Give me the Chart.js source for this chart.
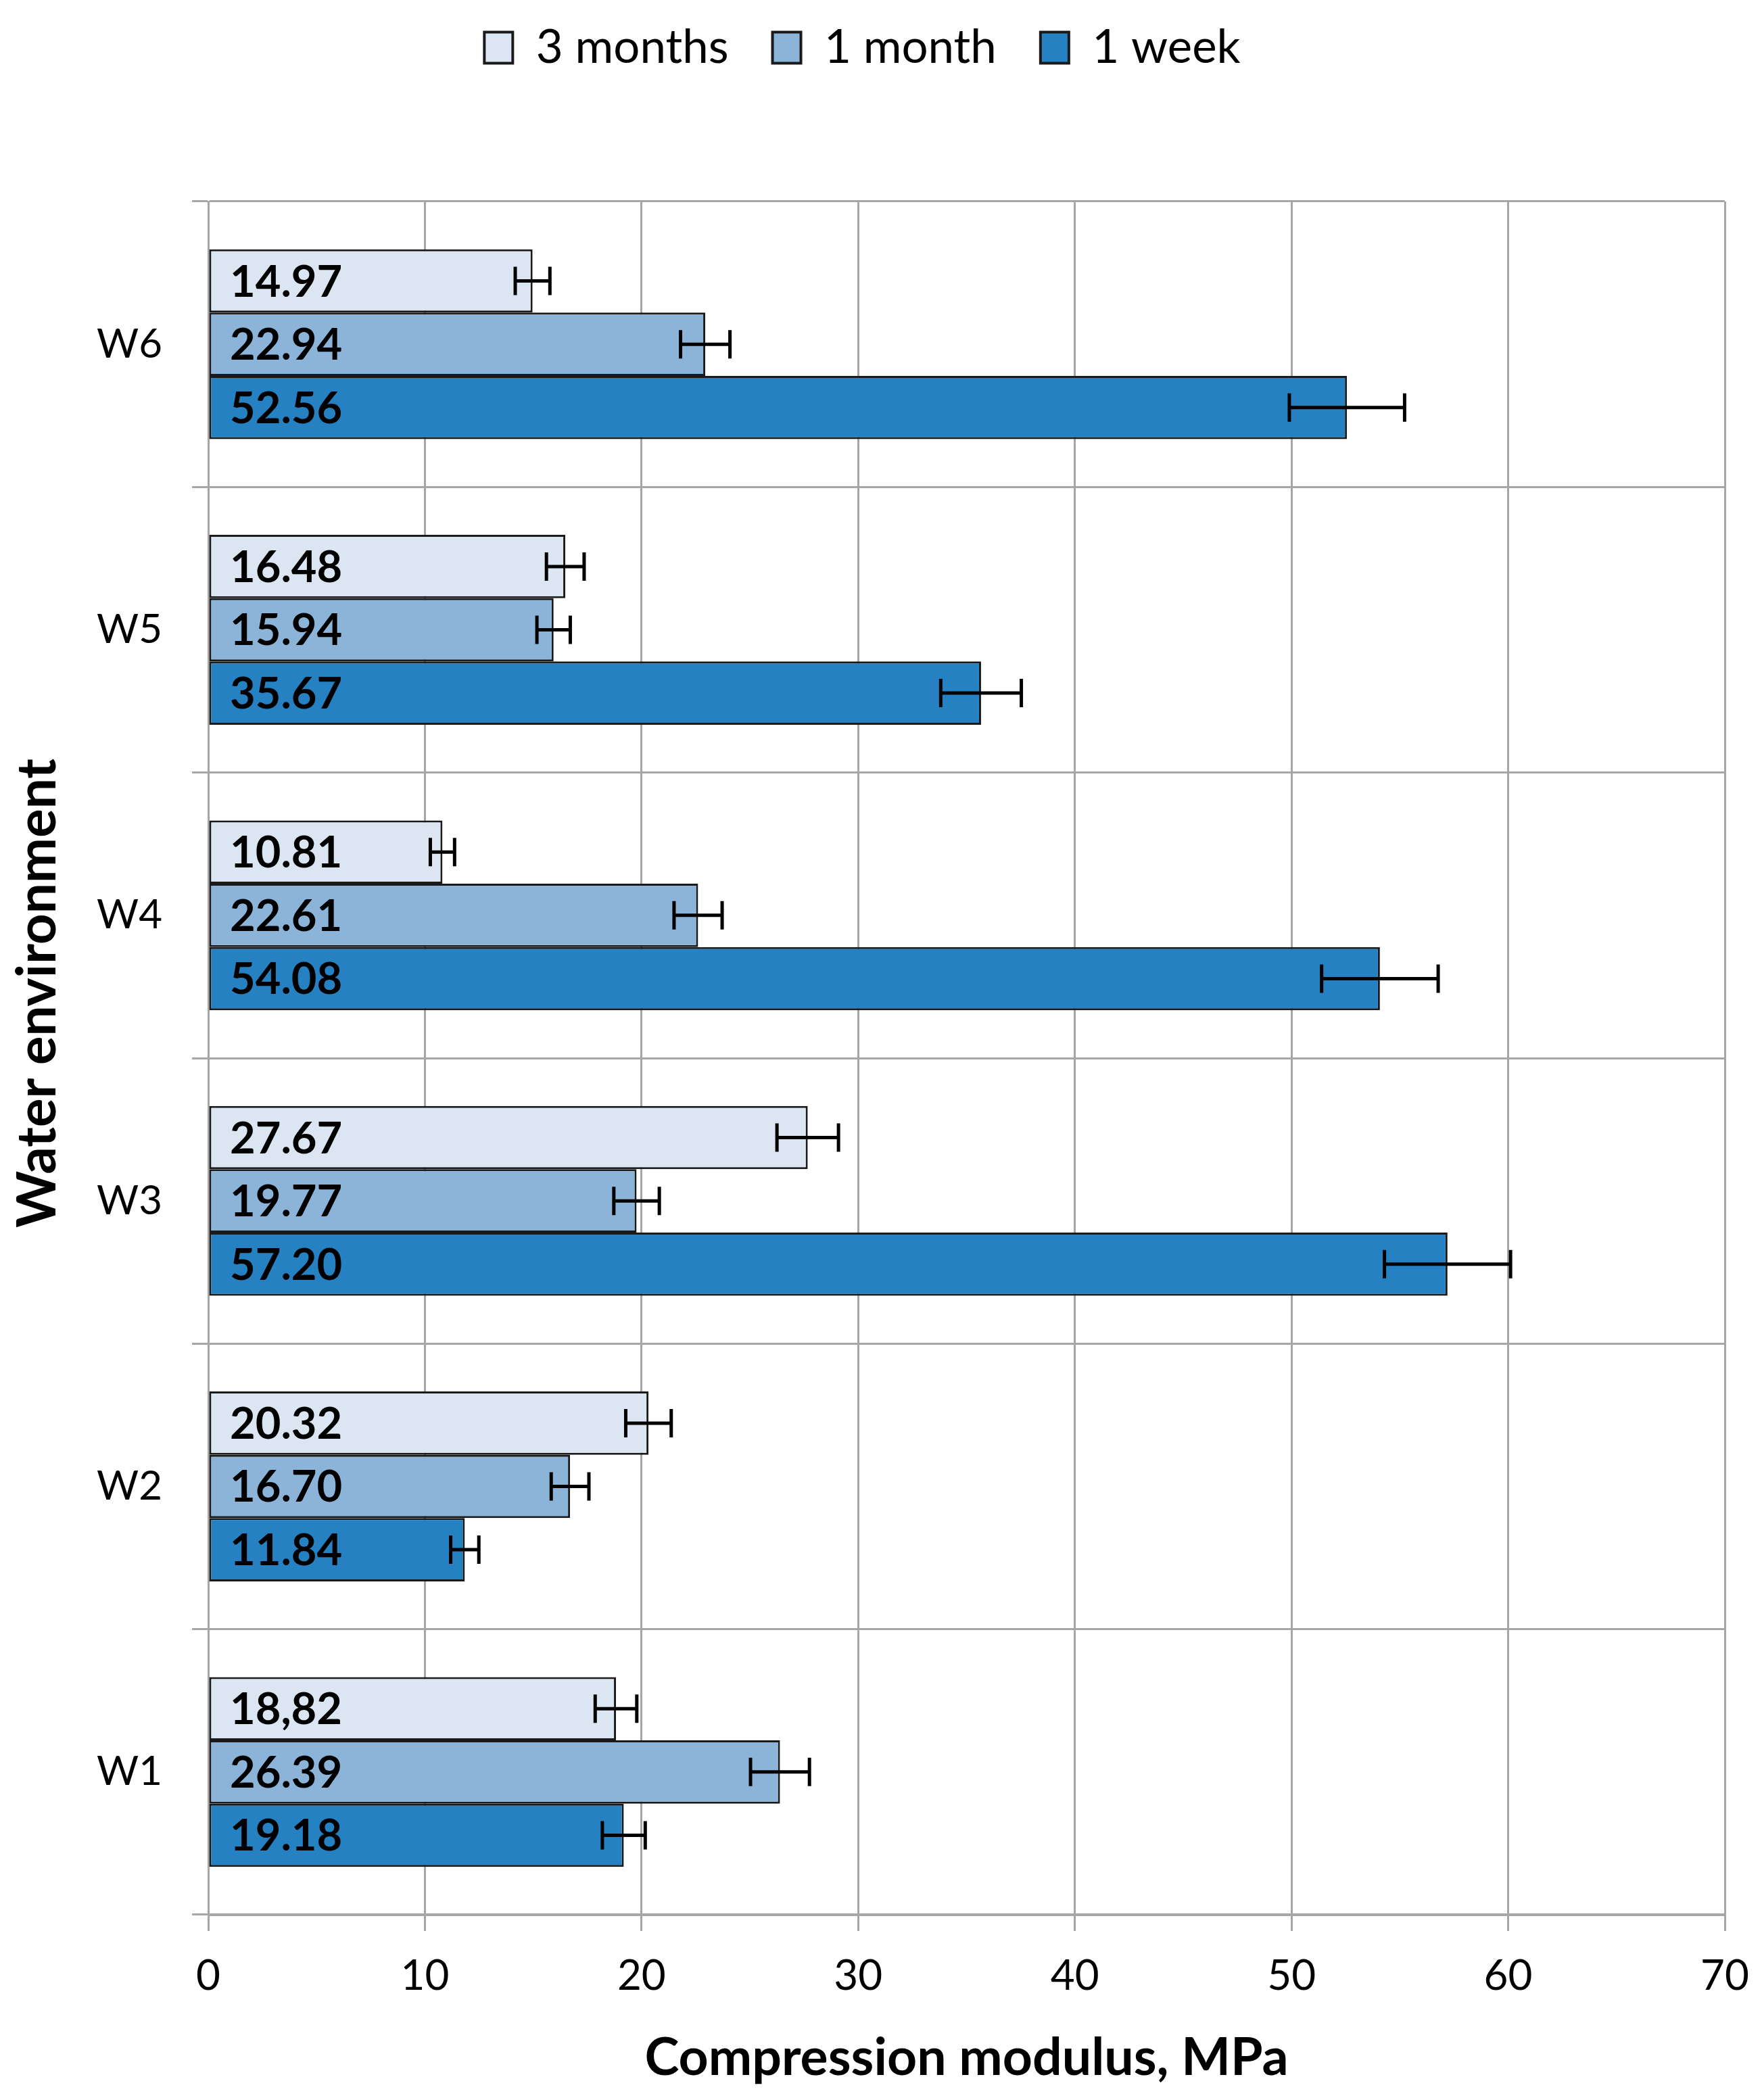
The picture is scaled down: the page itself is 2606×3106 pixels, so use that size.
<!DOCTYPE html>
<html>
<head>
<meta charset="utf-8">
<script src="https://cdn.jsdelivr.net/npm/chart.js@4.4.0/dist/chart.umd.min.js"></script>
<style>
  html, body { margin: 0; padding: 0; background: #fff; }
  canvas { display: block; }
</style>
</head>
<body>
<canvas id="modulus" width="2606" height="3106"></canvas>
<script>
const categories = ['W6', 'W5', 'W4', 'W3', 'W2', 'W1'];
const seriesNames = ['3 months', '1 month', '1 week'];

const months3 = [14.97, 16.48, 10.81, 27.67, 20.32, 18.82];
const month1 = [22.94, 15.94, 22.61, 19.77, 16.70, 26.39];
const week1 = [52.56, 35.67, 54.08, 57.20, 11.84, 19.18];

// half widths of the error bars
const months3Err = [0.80, 0.87, 0.56, 1.42, 1.05, 0.96];
const month1Err = [1.14, 0.77, 1.11, 1.05, 0.87, 1.36];
const week1Err = [2.66, 1.86, 2.69, 2.91, 0.65, 0.99];

// printed labels (one uses a comma in the original)
const months3Text = ['14.97', '16.48', '10.81', '27.67', '20.32', '18,82'];
const month1Text = ['22.94', '15.94', '22.61', '19.77', '16.70', '26.39'];
const week1Text = ['52.56', '35.67', '54.08', '57.20', '11.84', '19.18'];

const xTicks = [0, 10, 20, 30, 40, 50, 60, 70];
const yTitle = 'Water environment';

const errs = [months3Err, month1Err, week1Err];
const texts = [months3Text, month1Text, week1Text];

Chart.defaults.font.family = 'Lato';
Chart.defaults.color = '#000';

const gridGray = '#a6a6a6';

const legendHeight = {
  id: 'legendHeight',
  beforeInit(chart) {
    const fit = chart.legend.fit;
    chart.legend.fit = function () {
      fit.bind(chart.legend)();
      this.height = 327;
    };
  }
};

const errorBars = {
  id: 'errorBars',
  afterDatasetsDraw(chart) {
    const ctx = chart.ctx;
    const x = chart.scales.x;
    ctx.save();
    ctx.strokeStyle = '#000';
    ctx.lineWidth = 5;
    chart.data.datasets.forEach((ds, i) => {
      const meta = chart.getDatasetMeta(i);
      meta.data.forEach((bar, j) => {
        const lo = x.getPixelForValue(ds.data[j] - errs[i][j]);
        const hi = x.getPixelForValue(ds.data[j] + errs[i][j]);
        const y = bar.y;
        ctx.beginPath();
        ctx.moveTo(lo, y); ctx.lineTo(hi, y);
        ctx.moveTo(lo, y - 21); ctx.lineTo(lo, y + 21);
        ctx.moveTo(hi, y - 21); ctx.lineTo(hi, y + 21);
        ctx.stroke();
      });
    });
    ctx.restore();
  }
};

const barLabels = {
  id: 'barLabels',
  afterDatasetsDraw(chart) {
    const ctx = chart.ctx;
    const x0 = chart.scales.x.getPixelForValue(0);
    ctx.save();
    ctx.fillStyle = '#000';
    ctx.font = 'bold 65px Lato';
    ctx.textAlign = 'left';
    ctx.textBaseline = 'middle';
    chart.data.datasets.forEach((ds, i) => {
      chart.getDatasetMeta(i).data.forEach((bar, j) => {
        ctx.fillText(texts[i][j], x0 + 32, bar.y + 2);
      });
    });
    ctx.restore();
  }
};

// y title sits above the middle of the axis in the original
const yAxisTitle = {
  id: 'yAxisTitle',
  afterDraw(chart) {
    const ctx = chart.ctx;
    ctx.save();
    ctx.translate(56, 1469);
    ctx.rotate(-Math.PI / 2);
    ctx.fillStyle = '#000';
    ctx.font = 'bold 80px Lato';
    ctx.textAlign = 'center';
    ctx.textBaseline = 'middle';
    ctx.fillText(yTitle, 0, 0);
    ctx.restore();
  }
};

new Chart(document.getElementById('modulus'), {
  type: 'bar',
  data: {
    labels: categories,
    datasets: [
      { label: seriesNames[0], data: months3, backgroundColor: '#dbe6f2' },
      { label: seriesNames[1], data: month1, backgroundColor: '#8cb4d9' },
      { label: seriesNames[2], data: week1, backgroundColor: '#2681c2' }
    ]
  },
  options: {
    indexAxis: 'y',
    responsive: false,
    devicePixelRatio: 1,
    animation: false,
    datasets: {
      bar: {
        borderColor: '#1a1a1a',
        borderWidth: 3,
        borderSkipped: false,
        categoryPercentage: 0.665,
        barPercentage: 1.0
      }
    },
    layout: { padding: { top: -29, right: 55, bottom: 0, left: 0 } },
    scales: {
      x: {
        min: 0,
        max: 70,
        afterBuildTicks: (scale) => { scale.ticks = xTicks.map(v => ({ value: v })); },
        afterFit: (scale) => {
          scale.height = 274;
          scale.paddingRight = 0;
          scale.paddingLeft = 0;
        },
        ticks: { font: { size: 62 }, padding: 30, color: '#000' },
        grid: { color: gridGray, lineWidth: 3, tickLength: 24 },
        border: { color: gridGray, width: 3 },
        title: {
          display: true,
          text: 'Compression modulus, MPa',
          font: { size: 77, weight: 'bold' },
          padding: { top: 0, bottom: 16 },
          color: '#000'
        }
      },
      y: {
        afterFit: (scale) => { scale.width = 308; },
        ticks: { font: { size: 60 }, padding: 44, color: '#000' },
        grid: { color: gridGray, lineWidth: 3, tickLength: 24, offset: true },
        border: { color: gridGray, width: 3 },
        title: { display: false }
      }
    },
    plugins: {
      tooltip: { enabled: false },
      legend: {
        position: 'top',
        labels: {
          font: { size: 69 },
          boxWidth: 42,
          boxHeight: 46,
          padding: 65,
          color: '#000',
          generateLabels: (chart) =>
            Chart.defaults.plugins.legend.labels.generateLabels(chart).map(item => ({
              ...item, strokeStyle: '#1a1a1a', lineWidth: 4
            }))
        }
      }
    }
  },
  plugins: [legendHeight, errorBars, barLabels, yAxisTitle]
});
</script>
</body>
</html>
